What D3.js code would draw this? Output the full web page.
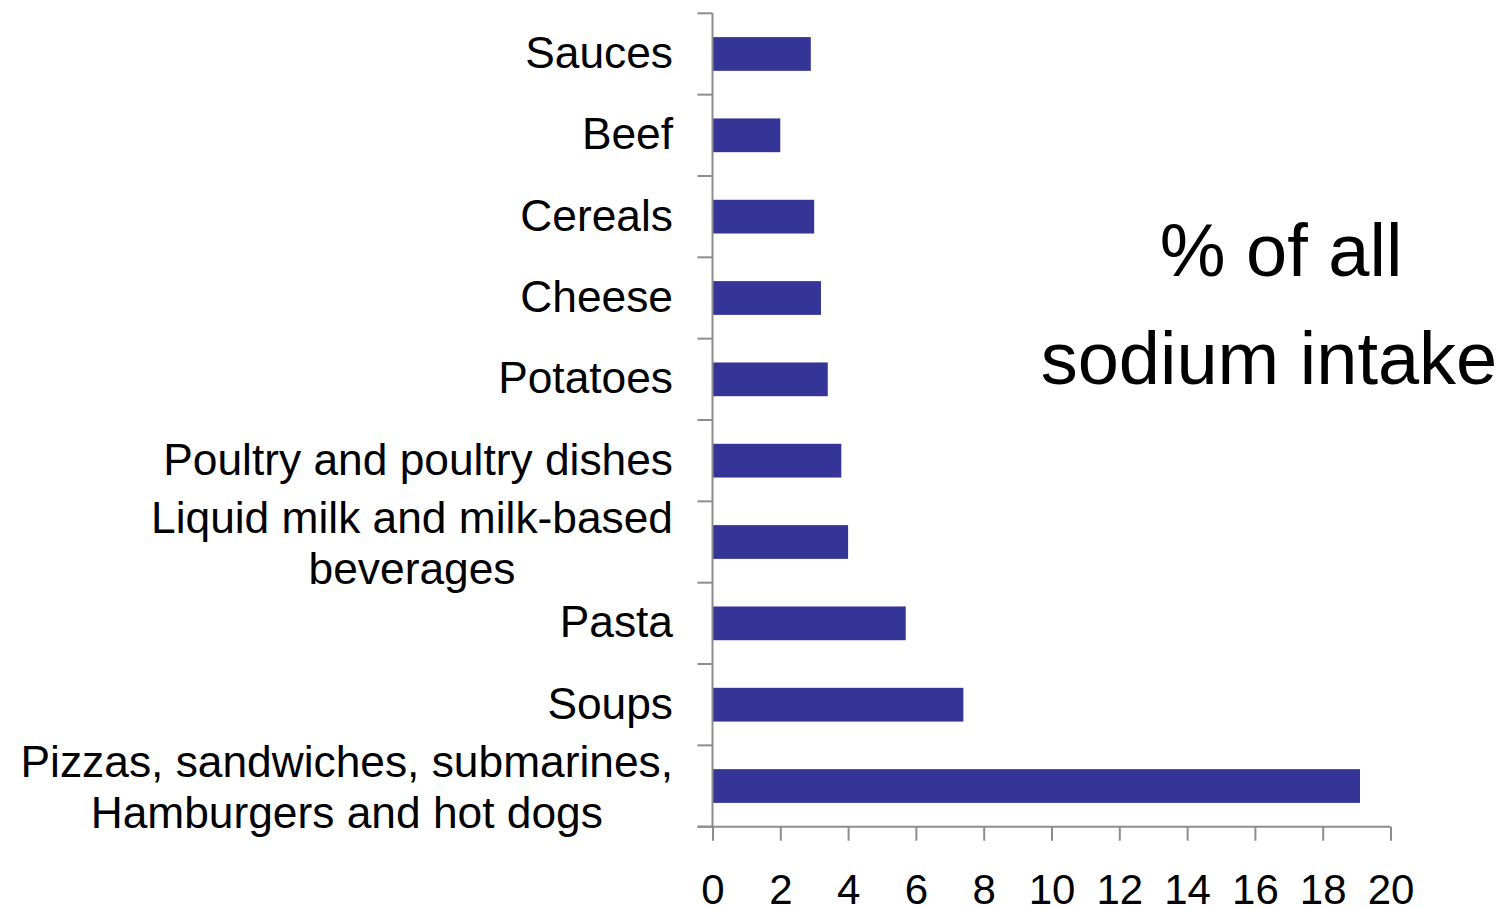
<!DOCTYPE html>
<html>
<head>
<meta charset="utf-8">
<script src="https://cdn.jsdelivr.net/npm/d3@7/dist/d3.min.js"></script>
<style>
  html, body { margin: 0; padding: 0; background: #ffffff; }
  svg { display: block; }
  text { font-family: "Liberation Sans", Arial, sans-serif; fill: #000; }
</style>
</head>
<body>
<svg id="chart" width="1503" height="908"></svg>
<script>
// Food categories, top to bottom; "\n" marks a line break in the label
const categories = [
  "Sauces",
  "Beef",
  "Cereals",
  "Cheese",
  "Potatoes",
  "Poultry and poultry dishes",
  "Liquid milk and milk-based\nbeverages",
  "Pasta",
  "Soups",
  "Pizzas, sandwiches, submarines,\nHamburgers and hot dogs"
];
// Share of all sodium intake (%)
const sodiumShare = [2.9, 2.0, 3.0, 3.2, 3.4, 3.8, 4.0, 5.7, 7.4, 19.1];
const xTickValues = [0, 2, 4, 6, 8, 10, 12, 14, 16, 18, 20];
const titleLines = ["% of all", "sodium intake"];

const svg = d3.select("#chart");
const plotLeft = 712.5, plotRight = 1390.5, plotTop = 13.3, plotBottom = 826.7;
const axisColor = "#8c8c8c";
const barColor = "#353597";

const x = d3.scaleLinear().domain([0, 20]).range([plotLeft, plotRight]);
const y = d3.scaleBand()
  .domain(categories)
  .range([plotTop, plotBottom])
  .paddingInner(0.585)
  .paddingOuter(0.2925);
const step = y.step();

// Bars
svg.append("g")
  .selectAll("rect")
  .data(categories)
  .join("rect")
  .attr("x", x(0))
  .attr("y", d => y(d))
  .attr("width", (d, i) => x(sodiumShare[i]) - x(0))
  .attr("height", y.bandwidth())
  .attr("fill", barColor);

// Category axis: line plus ticks at band boundaries
const yAxis = svg.append("g").attr("stroke", axisColor).attr("stroke-width", 2);
yAxis.append("line")
  .attr("x1", plotLeft).attr("x2", plotLeft)
  .attr("y1", plotTop).attr("y2", plotBottom);
yAxis.selectAll("line.tick")
  .data(d3.range(categories.length + 1))
  .join("line")
  .attr("class", "tick")
  .attr("x1", plotLeft - 15).attr("x2", plotLeft)
  .attr("y1", i => plotTop + i * step)
  .attr("y2", i => plotTop + i * step);

// Category labels (multi-line labels are centred on their own block)
const labelRight = 673;
const labelSize = 44.3;
const labelG = svg.append("g").attr("font-size", labelSize);
categories.forEach(c => {
  const lines = c.split("\n");
  const cy = y(c) + y.bandwidth() / 2;
  if (lines.length === 1) {
    labelG.append("text")
      .attr("x", labelRight)
      .attr("y", cy + 14)
      .attr("text-anchor", "end")
      .text(c);
  } else {
    const lh = 51;
    const t = labelG.append("text").attr("text-anchor", "middle");
    lines.forEach((ln, k) => {
      t.append("tspan")
        .attr("y", cy + 16 + (k - (lines.length - 1) / 2) * lh)
        .text(ln);
    });
    // centre the block so its widest line ends at labelRight
    const w = d3.max(t.selectAll("tspan").nodes(), n => n.getComputedTextLength());
    t.selectAll("tspan").attr("x", labelRight - w / 2);
  }
});

// Value axis
const tickSize = 42;
const xAxis = d3.axisBottom(x)
  .tickValues(xTickValues)
  .tickSize(14)
  .tickPadding(33.5)
  .tickFormat(d3.format("d"));
const xg = svg.append("g")
  .attr("transform", `translate(0,${plotBottom})`)
  .call(xAxis);
xg.select(".domain").attr("stroke", axisColor).attr("stroke-width", 2)
  .attr("d", `M${plotLeft - 15},0H${plotRight}`);
xg.selectAll(".tick line").attr("stroke", axisColor).attr("stroke-width", 2);
xg.selectAll(".tick text")
  .attr("font-size", tickSize)
  .attr("font-family", "Liberation Sans, Arial, sans-serif")
  .attr("fill", "#000");

// Chart title at right
const title = svg.append("g").attr("font-size", 74).attr("text-anchor", "middle");
title.append("text").attr("x", 1281).attr("y", 276).text(titleLines[0]);
title.append("text").attr("x", 1269).attr("y", 384).text(titleLines[1]);
</script>
</body>
</html>
